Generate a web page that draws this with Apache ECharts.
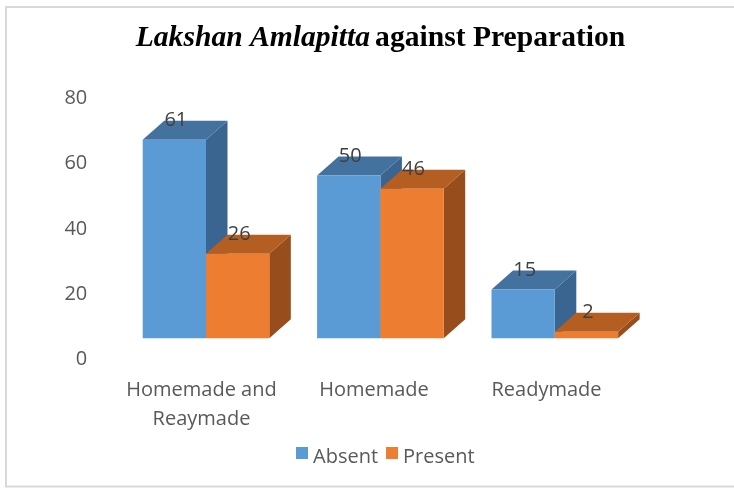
<!DOCTYPE html>
<html>
<head>
<meta charset="utf-8">
<script src="https://cdn.jsdelivr.net/npm/echarts@6/dist/echarts.min.js"></script>
<style>html,body{margin:0;padding:0;background:#fff}#c{width:734px;height:488px}</style>
</head>
<body>
<div id="c"></div>
<script>
const categories = ['Homemade and\nReaymade', 'Homemade', 'Readymade'];
const absent = [61, 50, 15];
const present = [26, 46, 2];
const yTicks = [0, 20, 40, 60, 80];

const FONT = 'Open Sans';
const palette = [
  {front: '#5B9BD5', top: '#44729F', side: '#3A6590'},
  {front: '#ED7D31', top: '#B55E22', side: '#974D1C'}
];
const LIFT = 20.7, DX = 21.5, DY = 19;

function makeRender(si) {
  return function (params, api) {
    const xi = api.value(0), v = api.value(1);
    const base = api.coord([xi, 0]);
    const top = api.coord([xi, v]);
    const band = api.size([1, 0])[0];
    const w = band * 0.363;
    const x0 = base[0] + (si === 0 ? -w : 0);
    const x1 = x0 + w;
    const yb = base[1] - LIFT;
    const yt = top[1] - LIFT;
    const c = palette[si];
    return {
      type: 'group',
      children: [
        {type: 'polygon', shape: {points: [[x1, yt], [x1 + DX, yt - DY], [x1 + DX, yb - DY], [x1, yb]]}, style: {fill: c.side}},
        {type: 'polygon', shape: {points: [[x0, yt], [x0 + DX, yt - DY], [x1 + DX, yt - DY], [x1, yt]]}, style: {fill: c.top}},
        {type: 'rect', shape: {x: x0, y: yt, width: w, height: yb - yt}, style: {fill: c.front}},
        {type: 'text', style: {x: x0 + w / 2 + 1.5, y: yt - 19.5, text: String(v), fill: '#404040', font: '20px "' + FONT + '"', align: 'center', verticalAlign: 'middle'}}
      ]
    };
  };
}

const chart = echarts.init(document.getElementById('c'), null, {renderer: 'canvas'});
chart.setOption({
  animation: false,
  backgroundColor: '#fff',
  title: {
    text: '{i|Lakshan Amlapitta} {b|against Preparation}',
    left: 375.5, top: 18, textAlign: 'center',
    textStyle: {
      rich: {
        i: {fontFamily: 'Liberation Serif', fontSize: 29.6, fontWeight: 'bold', fontStyle: 'italic', color: '#000'},
        b: {fontFamily: 'Liberation Serif', fontSize: 29.6, fontWeight: 'bold', color: '#000'}
      }
    }
  },
  legend: {
    data: ['Absent', 'Present'],
    left: 291, top: 442,
    itemWidth: 12, itemHeight: 20, itemGap: 8,
    icon: 'path://M0,0L12,0L12,12L0,12Z M0,20L0.01,20Z',
    textStyle: {fontFamily: FONT, fontSize: 20, color: '#595959'}
  },
  grid: [
    {left: 118.8, width: 523.2, top: 98.7, bottom: 488 - 359},
    {left: 115.25, width: 517.5, top: 98.7, bottom: 488 - 359}
  ],
  xAxis: [
    {type: 'category', gridIndex: 0, data: categories, show: false},
    {type: 'category', gridIndex: 1, data: categories,
     axisLine: {show: false}, axisTick: {show: false},
     axisLabel: {margin: 16.5, fontFamily: FONT, fontSize: 20, lineHeight: 29.5, color: '#595959', interval: 0}}
  ],
  yAxis: [
    {type: 'value', gridIndex: 0, min: yTicks[0], max: yTicks[yTicks.length - 1], interval: 20,
     axisLine: {show: false}, axisTick: {show: false}, splitLine: {show: false},
     axisLabel: {margin: 31.5, fontFamily: FONT, fontSize: 20, color: '#595959'}},
    {type: 'value', gridIndex: 1, min: 0, max: 80, show: false}
  ],
  series: [
    {name: 'Absent', type: 'custom', xAxisIndex: 0, yAxisIndex: 0, color: palette[0].front,
     renderItem: makeRender(0), data: absent.map((v, i) => [i, v])},
    {name: 'Present', type: 'custom', xAxisIndex: 0, yAxisIndex: 0, color: palette[1].front,
     renderItem: makeRender(1), data: present.map((v, i) => [i, v])}
  ],
  graphic: [
    {type: 'rect', silent: true, shape: {x: 6, y: 7, width: 734, height: 479.5},
     style: {fill: 'none', stroke: '#d9d9d9', lineWidth: 2}}
  ]
});
</script>
</body>
</html>
